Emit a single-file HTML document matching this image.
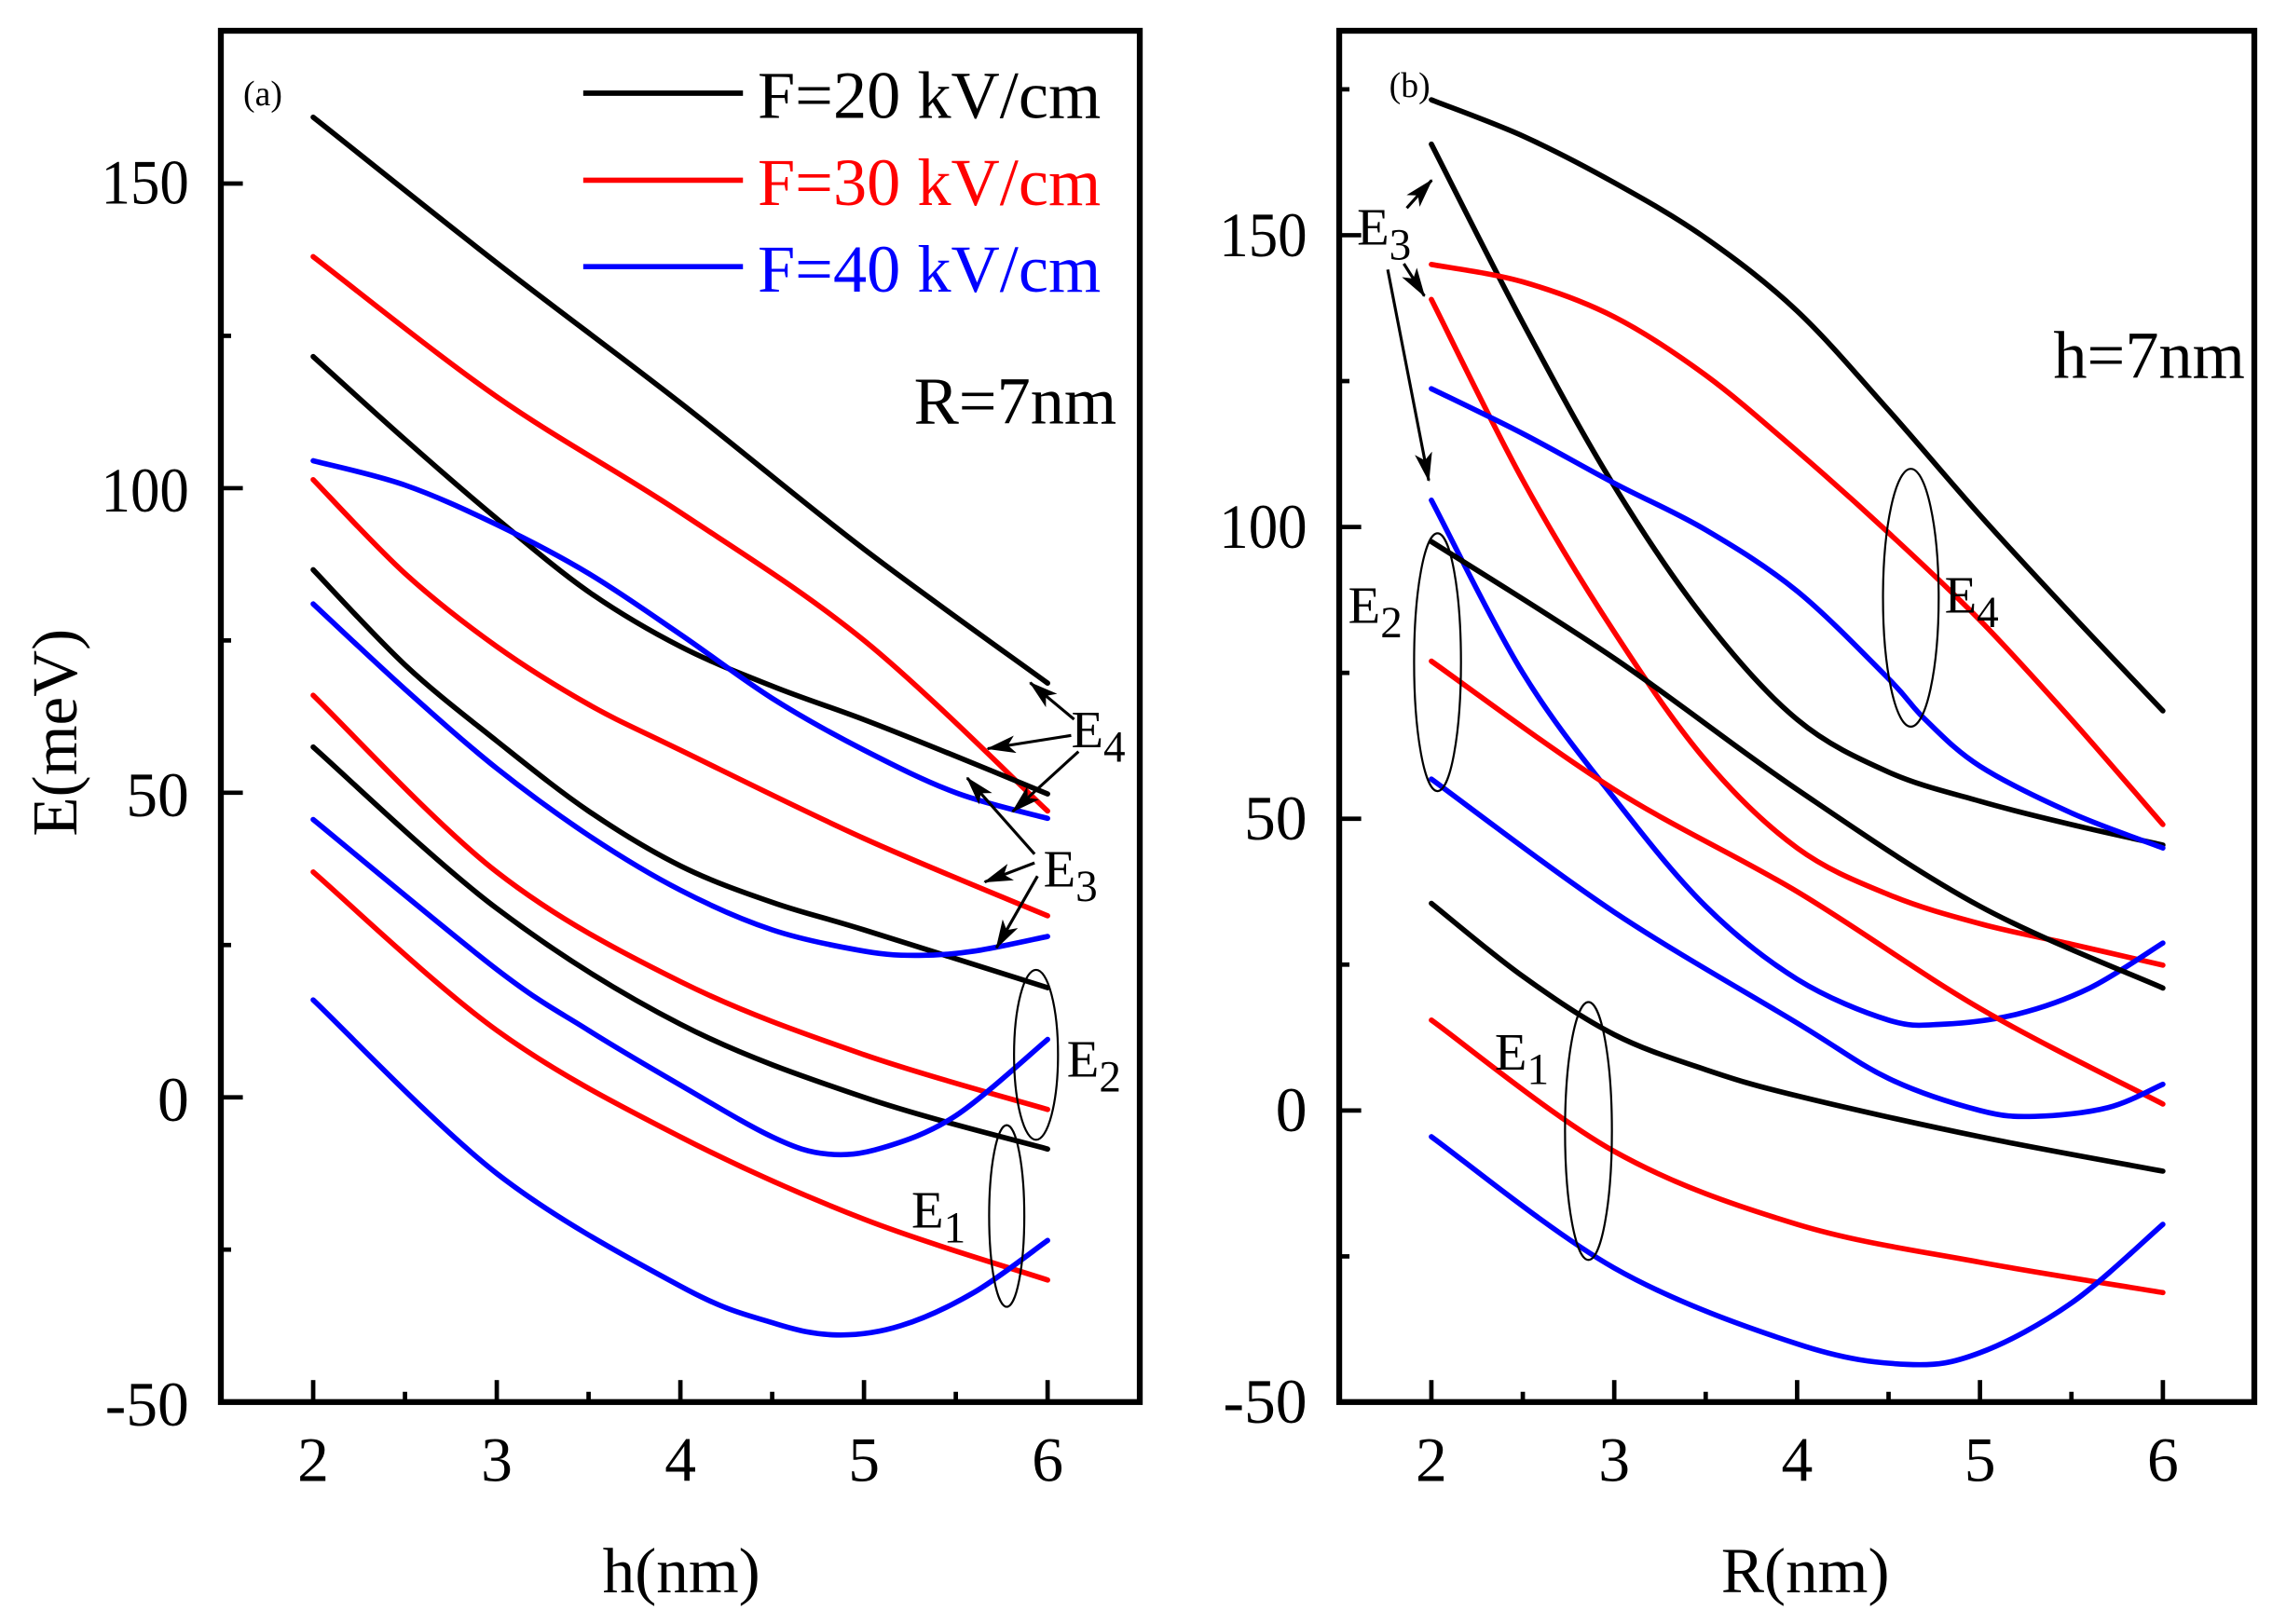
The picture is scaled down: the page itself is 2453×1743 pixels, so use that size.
<!DOCTYPE html>
<html><head><meta charset="utf-8"><style>
html,body{margin:0;padding:0;background:#fff;}
svg{display:block;}
text{font-family:"Liberation Serif","Times New Roman",serif;}
</style></head><body>
<svg id="s" width="2453" height="1743" viewBox="0 0 1560 1108.5" xmlns="http://www.w3.org/2000/svg">
<defs>
<marker id="ah" viewBox="0 0 20 12" refX="19" refY="6" markerWidth="20" markerHeight="12" markerUnits="userSpaceOnUse" orient="auto">
<path d="M0,0 L20,6 L0,12 L5,6 Z" fill="#000"/></marker>
</defs>
<rect width="1560" height="1108.5" fill="#fff"/>
<g id="curves" fill="none" stroke-width="3.6" stroke-linejoin="round" stroke-linecap="round"></g>
<g id="ticks" stroke="#000" stroke-width="3"></g>
<rect x="150.7" y="21" width="627.1" height="936" fill="none" stroke="#000" stroke-width="4"/>
<rect x="913.9" y="21" width="624.5" height="936" fill="none" stroke="#000" stroke-width="4"/>
<g font-size="43" text-anchor="end">
<text x="129" y="139" textLength="60" lengthAdjust="spacingAndGlyphs">150</text>
<text x="129" y="349" textLength="60" lengthAdjust="spacingAndGlyphs">100</text>
<text x="129" y="557">50</text>
<text x="129" y="765">0</text>
<text x="129" y="973">-50</text>
<text x="892" y="175" textLength="60" lengthAdjust="spacingAndGlyphs">150</text>
<text x="892" y="374" textLength="60" lengthAdjust="spacingAndGlyphs">100</text>
<text x="892" y="573">50</text>
<text x="892" y="772">0</text>
<text x="892" y="971">-50</text>
</g>
<g font-size="43" text-anchor="middle">
<text x="213.7" y="1011">2</text><text x="339" y="1011">3</text><text x="464.3" y="1011">4</text><text x="589.6" y="1011">5</text><text x="714.9" y="1011">6</text>
<text x="976.8" y="1011">2</text><text x="1101.6" y="1011">3</text><text x="1226.4" y="1011">4</text><text x="1351.2" y="1011">5</text><text x="1476" y="1011">6</text>
</g>
<text x="465" y="1087" font-size="44" text-anchor="middle">h(nm)</text>
<text x="1232" y="1087" font-size="44" text-anchor="middle">R(nm)</text>
<text transform="translate(52,500) rotate(-90)" font-size="44" text-anchor="middle">E(meV)</text>
<line x1="398" y1="63.6" x2="507" y2="63.6" stroke="#000" stroke-width="3.6"/>
<line x1="398" y1="123" x2="507" y2="123" stroke="#f00" stroke-width="3.6"/>
<line x1="398" y1="182" x2="507" y2="182" stroke="#00f" stroke-width="3.6"/>
<g font-size="46">
<text x="517" y="80.6" fill="#000">F=20 kV/cm</text>
<text x="517" y="140" fill="#f00">F=30 kV/cm</text>
<text x="517" y="199" fill="#00f">F=40 kV/cm</text>
<text x="762" y="289" text-anchor="end">R=7nm</text>
<text x="1532" y="258" text-anchor="end">h=7nm</text>
</g>
<text x="166" y="72" font-size="24">(a)</text>
<text x="948" y="66" font-size="24">(b)</text>
<g font-size="36">
<text x="731" y="510">E<tspan font-size="30" dy="10">4</tspan></text>
<text x="712" y="605">E<tspan font-size="30" dy="10">3</tspan></text>
<text x="728" y="735">E<tspan font-size="30" dy="10">2</tspan></text>
<text x="622" y="838">E<tspan font-size="30" dy="10">1</tspan></text>
<text x="926" y="167">E<tspan font-size="30" dy="10">3</tspan></text>
<text x="920" y="425">E<tspan font-size="30" dy="10">2</tspan></text>
<text x="1327" y="418">E<tspan font-size="30" dy="10">4</tspan></text>
<text x="1020" y="730">E<tspan font-size="30" dy="10">1</tspan></text>
</g>
<g stroke="#000" stroke-width="1.4" fill="none">
<ellipse cx="707" cy="720" rx="15" ry="58"/>
<ellipse cx="687" cy="830" rx="12" ry="62"/>
<ellipse cx="981" cy="452" rx="16" ry="88"/>
<ellipse cx="1304" cy="408" rx="19" ry="88"/>
<ellipse cx="1084" cy="772" rx="16" ry="88"/>
</g>
<g stroke="#000" stroke-width="2" marker-end="url(#ah)">
<line x1="733" y1="491" x2="703" y2="466"/>
<line x1="731" y1="502" x2="674" y2="511"/>
<line x1="736" y1="513" x2="691" y2="554"/>
<line x1="706" y1="583" x2="660" y2="531"/>
<line x1="706" y1="589" x2="672" y2="602"/>
<line x1="708" y1="598" x2="680" y2="647"/>
<line x1="960" y1="142" x2="977" y2="123"/>
<line x1="958" y1="180" x2="972" y2="202"/>
<line x1="947" y1="184" x2="975" y2="328"/>
</g>
</svg>
<script>
(function(){
var NS="http://www.w3.org/2000/svg";
var LX=function(h){return 213.7+(h-2)*125.3}, LY=function(v){return 749-v*4.158};
var RX=function(h){return 976.8+(h-2)*124.8}, RY=function(v){return 758-v*3.983};
var K="#000",R="#f00",B="#00f";
var left=[
[K,[[2,160.9],[3,137],[4,114],[5,90],[6,68]]],
[R,[[2,138],[3,115],[4,96],[5,75],[6,47]]],
[K,[[2,121.6],[2.5,108],[3,95],[3.5,83],[4,74],[4.5,67.5],[5,62],[5.5,56],[6,49.8]]],
[B,[[2,104.5],[2.5,100.5],[3,94],[3.5,86],[4,76],[4.5,65.5],[5,57],[5.5,50],[6,45.8]]],
[R,[[2,101.4],[2.5,86],[3,74],[3.5,64.5],[4,57],[5,42.5],[6,29.8]]],
[K,[[2,86.6],[2.5,71],[3,58.5],[3.5,47],[4,38],[4.5,32],[5,27.5],[6,18]]],
[B,[[2,81],[2.5,67],[3,54],[3.5,43],[4,34],[4.5,27.5],[5,24],[5.3,23.3],[5.6,24],[6,26.4]]],
[R,[[2,66],[3,37],[4,19],[5,7],[6,-2]]],
[K,[[2,57.5],[3,31],[4,12],[5,0],[6,-8.5]]],
[B,[[2,45.6],[3,21],[3.5,11],[4,2],[4.5,-6.5],[4.8,-9.3],[5.1,-8.3],[5.5,-3],[6,9.5]]],
[R,[[2,37],[3,11],[4,-6.5],[5,-20],[6,-30]]],
[B,[[2,16],[3,-12.5],[4,-31],[4.5,-37],[4.85,-39],[5.2,-37.5],[5.6,-32],[6,-23.5]]]
];
var right=[
[K,[[2,173.2],[2.5,167],[3,159],[3.5,149.5],[4,137],[4.5,120],[5,102],[5.5,85],[6,68.5]]],
[K,[[2,165.6],[2.5,135],[3,107],[3.5,84],[4,67],[4.5,58],[5,53],[5.5,49],[6,45.5]]],
[R,[[2,145],[2.5,142],[3,136],[3.5,126],[4,113],[4.5,99],[5,84],[5.5,67],[6,49]]],
[R,[[2,139],[2.5,108],[3,82],[3.5,60],[4,45],[4.5,37],[5,32],[5.5,28.5],[6,24.9]]],
[B,[[2,123.7],[2.5,116],[3,107.5],[3.5,99.5],[4,89],[4.5,74],[4.7,67],[5,59],[5.5,51],[6,45]]],
[B,[[2,104.6],[2.5,75],[3,53.5],[3.5,35],[4,22.5],[4.5,15.5],[4.8,14.8],[5.2,16.5],[5.6,21],[6,28.7]]],
[K,[[2,97.5],[3,77.5],[4,55],[5,35],[6,21]]],
[R,[[2,77],[3,55],[4,37.5],[5,17.5],[6,1.1]]],
[B,[[2,56.8],[3,34],[4,15],[4.5,5.5],[5,0],[5.3,-1],[5.7,0.5],[6,4.5]]],
[K,[[2,35.5],[2.5,23],[3,13],[3.5,7],[4,2.5],[5,-4.5],[6,-10.4]]],
[R,[[2,15.5],[3,-7],[4,-19.5],[5,-26],[6,-31.2]]],
[B,[[2,-4.5],[3,-27],[4,-40],[4.6,-43.5],[5,-41.5],[5.5,-33],[6,-19.5]]]
];
function path(pts){
 var d="M"+pts[0][0].toFixed(1)+","+pts[0][1].toFixed(1);
 for(var i=0;i<pts.length-1;i++){
  var p0=pts[i-1]||pts[i],p1=pts[i],p2=pts[i+1],p3=pts[i+2]||p2;
  var c1x=p1[0]+(p2[0]-p0[0])/6,c1y=p1[1]+(p2[1]-p0[1])/6;
  var c2x=p2[0]-(p3[0]-p1[0])/6,c2y=p2[1]-(p3[1]-p1[1])/6;
  d+=" C"+c1x.toFixed(1)+","+c1y.toFixed(1)+" "+c2x.toFixed(1)+","+c2y.toFixed(1)+" "+p2[0].toFixed(1)+","+p2[1].toFixed(1);
 }
 return d;
}
var g=document.getElementById("curves");
function draw(set,fx,fy){
 set.forEach(function(s){
  var pts=s[1].map(function(p){return [fx(p[0]),fy(p[1])]});
  var e=document.createElementNS(NS,"path");
  e.setAttribute("d",path(pts));e.setAttribute("stroke",s[0]);
  g.appendChild(e);
 });
}
draw(left,LX,LY);draw(right,RX,RY);
var t=document.getElementById("ticks");
function ln(x1,y1,x2,y2){var e=document.createElementNS(NS,"line");
 e.setAttribute("x1",x1);e.setAttribute("y1",y1);e.setAttribute("x2",x2);e.setAttribute("y2",y2);t.appendChild(e);}
for(var h=2;h<=6;h+=0.5){var L=(h%1===0)?15:7;
 ln(LX(h),957,LX(h),957-L);ln(RX(h),957,RX(h),957-L);}
for(var v=-50;v<=175;v+=25){var L=(v%50===0)?15:7;
 ln(150.7,LY(v),150.7+L,LY(v));}
for(var v=-50;v<=175;v+=25){var L=(v%50===0)?15:7;
 ln(913.9,RY(v),913.9+L,RY(v));}
})();
</script>
</body></html>
